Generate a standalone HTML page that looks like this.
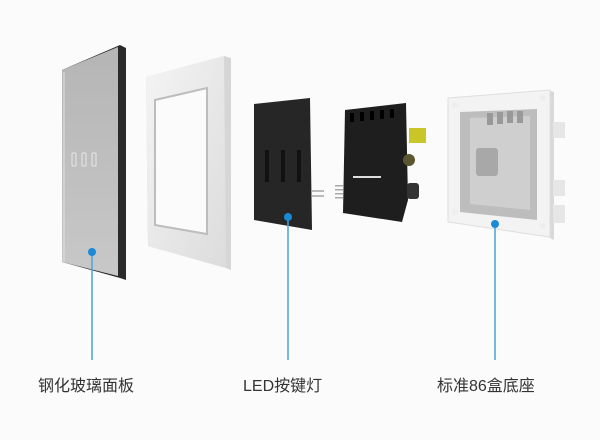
<!DOCTYPE html>
<html><head><meta charset="utf-8"><style>
html,body{margin:0;padding:0;background:#fbfbfb;}
.l{position:absolute;top:372px;font:16px "Liberation Sans","Noto Sans CJK SC",sans-serif;color:#333;white-space:nowrap}
</style></head><body>
<div style="position:relative;width:600px;height:440px;overflow:hidden">
<svg width="600" height="440" style="position:absolute;left:0;top:0">
<defs>
<linearGradient id="g1" x1="0" y1="0" x2="0" y2="1"><stop offset="0" stop-color="#b5b5b5"/><stop offset="1" stop-color="#c8c8c8"/></linearGradient>
<linearGradient id="g2" x1="0" y1="0" x2="1" y2="1"><stop offset="0" stop-color="#f4f4f4"/><stop offset="1" stop-color="#dcdcdc"/></linearGradient>
</defs>
<!-- glass panel -->
<polygon points="62,70 120,45 126,48 126,280 120,278 62,262" fill="#2a2a2a"/>
<polygon points="62,70 118,47 118,276 62,262" fill="url(#g1)"/>
<line x1="64" y1="72" x2="64" y2="262" stroke="#e0e0e0" stroke-width="1"/>
<g fill="none" stroke="#e8e8e8" stroke-width="1">
<rect x="72" y="153" width="4" height="13" rx="1"/><rect x="82" y="153" width="4" height="13" rx="1"/><rect x="92" y="153" width="4" height="13" rx="1"/>
</g>
<!-- frame -->
<polygon points="146,77 224,56 231,58 231,270 226,268 148,246" fill="#d6d6d6"/>
<polygon points="146,77 224,56 226,268 148,246" fill="url(#g2)"/>
<polygon points="155,100 207,88 207,234 155,225" fill="#fbfbfb" stroke="#bdbdbd" stroke-width="2"/>
<!-- LED board -->
<polygon points="254,104 310,98 312,230 254,220" fill="#262626"/>
<rect x="265" y="150" width="4" height="32" fill="#111"/><rect x="281" y="150" width="4" height="32" fill="#111"/><rect x="297" y="150" width="4" height="32" fill="#111"/>
<rect x="312" y="190" width="12" height="2" fill="#bbb"/><rect x="312" y="195" width="12" height="2" fill="#bbb"/>
<!-- PCB -->
<polygon points="345,110 406,103 408,200 402,222 343,213" fill="#1e1e1e"/>
<g fill="#000"><rect x="350" y="113" width="4" height="9"/><rect x="360" y="112" width="4" height="9"/><rect x="370" y="111" width="4" height="9"/><rect x="380" y="110" width="4" height="9"/><rect x="390" y="109" width="4" height="9"/></g>
<rect x="353" y="176" width="28" height="2" fill="#ddd"/>
<rect x="409" y="128" width="17" height="15" fill="#c9c62a"/>
<rect x="407" y="183" width="12" height="16" rx="3" fill="#333"/>
<circle cx="409" cy="160" r="6" fill="#5a5630"/>
<g fill="#aaa"><rect x="335" y="185" width="8" height="1.5"/><rect x="335" y="189" width="8" height="1.5"/><rect x="335" y="193" width="8" height="1.5"/><rect x="335" y="197" width="8" height="1.5"/></g>
<!-- base -->
<polygon points="548,90 554,92 554,240 548,237" fill="#d9d9d9"/>
<g fill="#e6e6e6"><rect x="553" y="122" width="12" height="16"/><rect x="553" y="180" width="12" height="16"/><rect x="553" y="205" width="12" height="18"/></g>
<polygon points="448,98 550,90 550,237 448,222" fill="#f3f3f3" stroke="#dedede"/>
<polygon points="460,112 537,109 537,220 460,212" fill="#bdbdbd"/>
<polygon points="470,118 530,116 530,210 470,204" fill="#cfcfcf"/>
<rect x="476" y="148" width="22" height="28" rx="3" fill="#a8a8a8"/>
<g fill="#999"><rect x="487" y="113" width="6" height="12"/><rect x="497" y="112" width="6" height="12"/><rect x="507" y="111" width="6" height="12"/><rect x="517" y="111" width="6" height="12"/></g>
<g fill="#eee"><circle cx="455" cy="105" r="3"/><circle cx="543" cy="98" r="3"/><circle cx="455" cy="212" r="3"/><circle cx="543" cy="226" r="3"/></g>
<!-- connectors -->
<g stroke="#4aa3d8" stroke-width="1.5"><line x1="92" y1="252" x2="92" y2="360"/><line x1="288" y1="217" x2="288" y2="360"/><line x1="495" y1="224" x2="495" y2="360"/></g>
<g fill="#1a8ad6"><circle cx="92" cy="252" r="4"/><circle cx="288" cy="217" r="4"/><circle cx="495" cy="224" r="4"/></g>
</svg>
<div class="l" style="left:38px">钢化玻璃面板</div>
<div class="l" style="left:243px">LED按键灯</div>
<div class="l" style="left:437px">标准86盒底座</div>
</div>
</body></html>
